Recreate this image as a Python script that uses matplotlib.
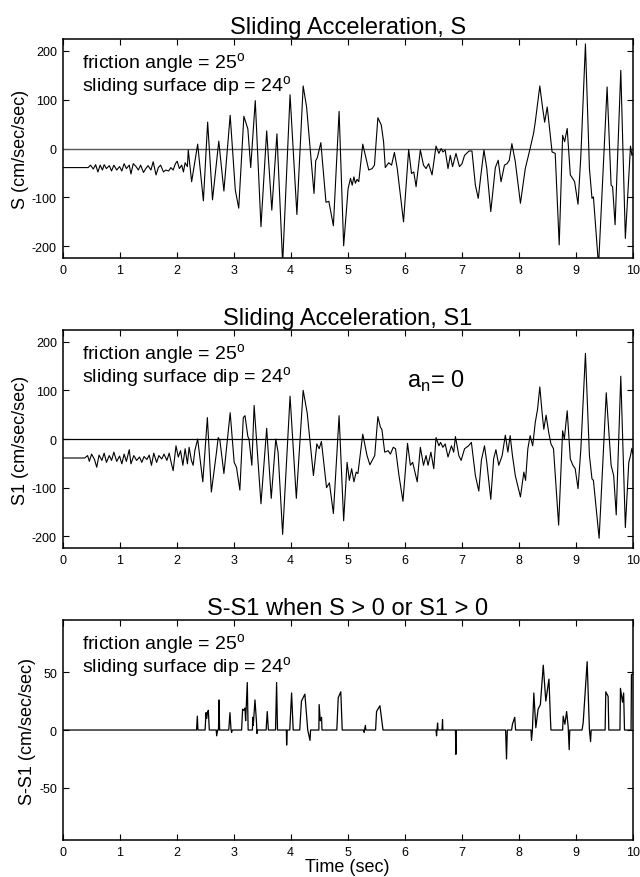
import matplotlib
matplotlib.use('Agg')
import matplotlib.pyplot as plt

plt.rcParams['font.family'] = ['Liberation Sans', 'DejaVu Sans']
plt.rcParams['mathtext.fontset'] = 'custom'
plt.rcParams['mathtext.rm'] = 'Liberation Sans'
plt.rcParams['axes.unicode_minus'] = False

# sliding acceleration S (cm/sec/sec)
s_time = [0, 0.45, 0.49, 0.54, 0.58, 0.62, 0.66, 0.70, 0.73, 0.77, 0.82, 0.86, 0.90, 0.95,
          1.00, 1.04, 1.08, 1.12, 1.17, 1.20, 1.24, 1.29, 1.33, 1.37, 1.42, 1.46, 1.50, 1.55,
          1.59, 1.64, 1.68, 1.72, 1.77, 1.81, 1.86, 1.90, 1.94, 1.98, 2.01, 2.05, 2.09, 2.12,
          2.15, 2.19, 2.205, 2.264, 2.37, 2.47, 2.545, 2.63, 2.74, 2.83, 2.94, 3.03, 3.09,
          3.18, 3.25, 3.30, 3.38, 3.48, 3.58, 3.67, 3.76, 3.86, 3.99, 4.11, 4.22, 4.28, 4.41,
          4.44, 4.47, 4.53, 4.62, 4.67, 4.75, 4.85, 4.93, 5.008, 5.05, 5.08, 5.11, 5.136,
          5.165, 5.195, 5.265, 5.31, 5.37, 5.43, 5.47, 5.53, 5.59, 5.63, 5.66, 5.72, 5.77,
          5.82, 5.87, 5.925, 5.98, 6.07, 6.12, 6.16, 6.20, 6.275, 6.33, 6.375, 6.42, 6.48,
          6.55, 6.60, 6.64, 6.67, 6.71, 6.76, 6.80, 6.84, 6.90, 6.96, 7.006, 7.05, 7.13, 7.18,
          7.24, 7.29, 7.33, 7.39, 7.44, 7.51, 7.59, 7.64, 7.69, 7.75, 7.795, 7.835, 7.88, 7.94,
          8.03, 8.115, 8.20, 8.26, 8.29, 8.37, 8.42, 8.455, 8.50, 8.54, 8.585, 8.64, 8.71,
          8.77, 8.805, 8.85, 8.905, 8.945, 8.98, 9.04, 9.09, 9.17, 9.24, 9.285, 9.31, 9.40,
          9.55, 9.62, 9.646, 9.69, 9.79, 9.87, 9.96, 9.985, 10.0]
s_vals = [-39, -39, -34, -42, -33, -48, -34, -44, -33, -41, -35, -46, -34, -44,
          -37, -46, -31, -41, -34, -52, -31, -37, -44, -34, -49, -41, -35, -44,
          -27, -54, -39, -34, -48, -44, -46, -39, -44, -31, -26, -41, -34, -48,
          -29, -37, -3, -68, 9, -107, 54, -105, 15, -87, 68, -85, -122,
          66, 40, -39, 98, -160, 36, -126, 30, -235, 110, -135, 128, 85, -92,
          -25, -18, 12, -110, -108, -158, 76, -199, -82, -61, -75, -58, -71,
          -63, -68, 9, -14, -44, -41, -34, 63, 48, 14, -39, -29, -34,
          -8, -41, -95, -150, -2, -51, -48, -78, -3, -34, -41, -31, -54,
          5, -10, 0, -7, -3, -41, -14, -37, -10, -37, -31, -14, -5, -5,
          -75, -102, -61, -3, -41, -129, -39, -24, -68, -34, -31, -24, 10, -27,
          -112, -41, 0, 31, 54, 128, 82, 54, 85, 41, -7, -10, -197,
          27, 14, 41, -54, -61, -68, -114, -14, 214, -41, -102, -99, -240,
          126, -75, -78, -156, 160, -184, 5, -14, -10]

# sliding acceleration S1 (cm/sec/sec), a_n = 0
s1_time = [0, 0.39, 0.44, 0.47, 0.51, 0.56, 0.60, 0.64, 0.69, 0.73, 0.77, 0.82, 0.86, 0.90,
           0.95, 1.00, 1.04, 1.08, 1.12, 1.17, 1.20, 1.25, 1.30, 1.35, 1.39, 1.43, 1.48, 1.52,
           1.56, 1.60, 1.65, 1.69, 1.74, 1.78, 1.83, 1.87, 1.91, 1.94, 1.99, 2.03, 2.07, 2.11,
           2.15, 2.19, 2.22, 2.26, 2.29, 2.32, 2.37, 2.46, 2.54, 2.61, 2.70, 2.73, 2.76, 2.83,
           2.94, 3.01, 3.05, 3.11, 3.17, 3.20, 3.25, 3.27, 3.32, 3.36, 3.48, 3.58, 3.66, 3.74,
           3.78, 3.86, 3.99, 4.10, 4.22, 4.29, 4.40, 4.46, 4.50, 4.54, 4.63, 4.68, 4.75, 4.85,
           4.93, 4.99, 5.03, 5.07, 5.11, 5.15, 5.18, 5.265, 5.34, 5.39, 5.43, 5.475, 5.53,
           5.575, 5.60, 5.65, 5.71, 5.75, 5.80, 5.84, 5.90, 5.97, 6.05, 6.10, 6.14, 6.22,
           6.275, 6.33, 6.375, 6.41, 6.46, 6.51, 6.55, 6.60, 6.63, 6.67, 6.71, 6.76, 6.82,
           6.86, 6.89, 6.95, 6.99, 7.05, 7.12, 7.17, 7.24, 7.30, 7.345, 7.40, 7.44, 7.51,
           7.56, 7.60, 7.65, 7.71, 7.765, 7.81, 7.85, 7.89, 7.94, 8.03, 8.09, 8.12, 8.16,
           8.20, 8.245, 8.29, 8.33, 8.37, 8.41, 8.44, 8.48, 8.525, 8.565, 8.61, 8.70, 8.77,
           8.80, 8.85, 8.905, 8.95, 8.99, 9.04, 9.09, 9.17, 9.24, 9.285, 9.31, 9.41, 9.535,
           9.62, 9.665, 9.71, 9.79, 9.87, 9.93, 9.96, 9.985, 10.0]
s1_vals = [-39, -39, -34, -46, -31, -42, -58, -33, -44, -29, -48, -34, -44, -27,
           -46, -35, -51, -31, -46, -22, -51, -34, -44, -37, -48, -36, -42, -33,
           -54, -29, -48, -34, -41, -31, -44, -29, -51, -65, -14, -37, -24, -54,
           -20, -51, -17, -44, -54, -24, 0, -88, 44, -109, -27, 3, -3, -71,
           54, -48, -58, -105, 44, 48, 5, 0, -54, 69, -133, 22, -122, 0,
           -27, -196, 88, -122, 100, 54, -75, -10, -20, -5, -100, -90, -153, 48,
           -168, -48, -85, -61, -88, -68, -71, 10, -34, -53, -44, -34, 46,
           24, 20, -27, -24, -31, -17, -20, -75, -128, -9, -54, -48, -88,
           -17, -54, -34, -54, -27, -61, 3, -14, -7, -17, -10, -37, -14,
           -27, 5, -34, -44, -20, -14, -7, -75, -107, -44, -14, -48, -124,
           -41, -22, -54, -34, 8, -27, 7, -34, -75, -119, -68, -85, -20,
           7, -14, 34, 61, 107, 54, 20, 49, 14, -10, -20, -177, 17,
           0, 58, -41, -54, -61, -102, -20, 176, -34, -82, -85, -204, 95,
           -54, -75, -156, 129, -182, -48, -34, -19, -30]

# S-S1 when S > 0 or S1 > 0
d_time = [0, 2.35, 2.364, 2.375, 2.50, 2.516, 2.53, 2.54, 2.557, 2.574,
          2.695, 2.703, 2.72, 2.735, 2.744, 2.755, 2.915, 2.936, 2.955, 2.966, 2.975,
          3.14, 3.158, 3.18, 3.199, 3.211, 3.24, 3.255, 3.33, 3.335, 3.345, 3.375, 3.40,
          3.41, 3.42, 3.57, 3.59, 3.61, 3.735, 3.754, 3.77, 3.925, 3.93, 3.94, 3.985, 4.017,
          4.045, 4.16, 4.19, 4.22, 4.25, 4.30, 4.34, 4.35, 4.495, 4.50, 4.52, 4.543, 4.55,
          4.81, 4.835, 4.88, 4.905, 5.28, 5.29, 5.31, 5.32, 5.49, 5.507, 5.53, 5.566, 5.62,
          6.55, 6.559, 6.577, 6.585, 6.655, 6.664, 6.67, 6.89, 6.898, 6.905, 7.77, 7.786,
          7.80, 7.875, 7.89, 7.93, 7.945, 8.215, 8.224, 8.24, 8.265, 8.30, 8.34, 8.38, 8.43,
          8.475, 8.53, 8.557, 8.565, 8.77, 8.78, 8.81, 8.84, 8.867, 8.885, 8.895, 9.11,
          9.13, 9.20, 9.24, 9.26, 9.27, 9.515, 9.527, 9.568, 9.58, 9.775, 9.784, 9.82,
          9.84, 9.855, 9.97, 9.977, 10.0]
d_vals = [0, 0, 12, 0, 0, 15, 10, 15, 17, 0,
          0, -5, 0, 0, 26, 0, 0, 15, 0, -2, 0,
          0, 18, 17, 19, 8, 41, 0, 0, 11, 4, 26, 8,
          -3, 0, 0, 16, 0, 0, 41, 0, 0, -13, 0, 0, 32,
          0, 0, 25, 28, 31, 0, -9, 0, 0, 22, 8, 11, 0,
          0, 28, 33, 0, 0, -2, 4, 0, 0, 16, 18, 21, 0,
          0, -5, 6, 0, 0, 9, 0, 0, -21, 0, 0, -25,
          0, 0, 5, 11, 0, 0, -9, 0, 32, 2, 18, 22, 56,
          25, 44, 9, 0, 0, 12, 5, 16, 3, -17, 0, 0,
          6, 59, 0, -10, 0, 0, 33, 29, 0, 0, 36, 24,
          32, 0, 0, 48, 48]

x_ticks = list(range(0, 11))
note1 = 'friction angle = 25$^{\\rm o}$'
note2 = 'sliding surface dip = 24$^{\\rm o}$'

fig = plt.figure(figsize=(6.4, 8.78), dpi=100)
ax1 = fig.add_axes([0.0977, 0.705, 0.891, 0.2494])
ax2 = fig.add_axes([0.0977, 0.3747, 0.891, 0.2483])
ax3 = fig.add_axes([0.0977, 0.0421, 0.891, 0.2506])


def style_axis(ax, yticks, ylim):
    ax.set_xlim(0, 10)
    ax.set_ylim(*ylim)
    ax.set_xticks(x_ticks)
    ax.set_yticks(yticks)
    ax.tick_params(direction='in', length=4, width=0.8, top=True, right=True,
                   labelsize=9, pad=4)
    for sp in ax.spines.values():
        sp.set_linewidth(1.1)
    ax.text(0.034, 0.868, note1, transform=ax.transAxes, fontsize=14, va='baseline')
    ax.text(0.034, 0.763, note2, transform=ax.transAxes, fontsize=14, va='baseline')


ax1.axhline(0, color='0.35', lw=1.0)
ax1.plot(s_time, s_vals, color='black', lw=0.8)
style_axis(ax1, [-200, -100, 0, 100, 200], (-224, 224))
ax1.set_title('Sliding Acceleration, S', fontsize=17, pad=4)
ax1.set_ylabel('S (cm/sec/sec)', fontsize=13, labelpad=2)

ax2.axhline(0, color='black', lw=0.9)
ax2.plot(s1_time, s1_vals, color='black', lw=0.8)
style_axis(ax2, [-200, -100, 0, 100, 200], (-224, 224))
ax2.set_title('Sliding Acceleration, S1', fontsize=17, pad=4)
ax2.set_ylabel('S1 (cm/sec/sec)', fontsize=13, labelpad=2)
ax2.text(0.604, 0.739, 'a$_{\\rm n}$= 0', transform=ax2.transAxes, fontsize=17,
         va='baseline')

ax3.plot(d_time, d_vals, color='black', lw=0.9)
style_axis(ax3, [-50, 0, 50], (-95, 95))
ax3.set_title('S-S1 when S > 0 or S1 > 0', fontsize=17, pad=4)
ax3.set_ylabel('S-S1 (cm/sec/sec)', fontsize=13, labelpad=2)
ax3.set_xlabel('Time (sec)', fontsize=13, labelpad=0)

fig.savefig('out.png', dpi=100)
